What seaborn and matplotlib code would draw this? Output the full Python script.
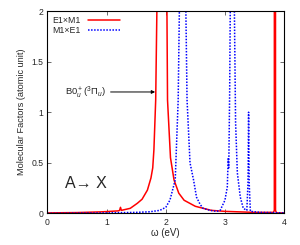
import matplotlib
matplotlib.use("Agg")
import matplotlib.pyplot as plt
import seaborn as sns
import pandas as pd

# E1xM1 (red, solid)
red_x = [0.0, 0.5, 0.9, 1.0, 1.2, 1.22, 1.235, 1.25, 1.4, 1.52, 1.6, 1.69, 1.75, 1.78,
         1.80, 1.83, 1.85, 1.88, 1.94, 2.00, 2.02, 2.03, 2.08, 2.14, 2.22, 2.31, 2.5,
         2.77, 3.0, 3.5, 3.82, 3.835, 3.84, 3.85, 3.855, 3.87, 4.0]
red_y = [0.005, 0.008, 0.015, 0.018, 0.025, 0.03, 0.06, 0.03, 0.05, 0.10, 0.14, 0.23, 0.35, 0.45,
         0.63, 1.12, 2.0, 4.0, 8.0, 4.0, 2.0, 1.12, 0.55, 0.33, 0.2, 0.13, 0.07,
         0.03, 0.02, 0.01, 0.01, 0.03, 20.0, 20.0, 0.03, 0.005, 0.005]

# M1xE1 (blue, dotted)
blue_x = [0.0, 1.0, 1.5, 1.73, 1.9, 2.0, 2.07, 2.16, 2.21, 2.23, 2.26, 2.285, 2.31, 2.34, 2.36,
          2.41, 2.47, 2.52, 2.58, 2.63, 2.75, 2.86, 2.92, 3.0, 3.04, 3.055, 3.065, 3.08, 3.09,
          3.125, 3.16, 3.18, 3.21, 3.26, 3.31, 3.37, 3.39, 3.40, 3.41, 3.43, 3.6, 4.0]
blue_y = [0.0, 0.005, 0.01, 0.016, 0.03, 0.06, 0.13, 0.33, 1.12, 2.0, 5.0, 8.0, 5.0, 2.0, 1.12,
          0.5, 0.33, 0.16, 0.09, 0.05, 0.03, 0.02, 0.03, 0.13, 0.26, 0.54, 0.45, 1.2, 2.0,
          6.0, 2.0, 0.9, 0.4, 0.16, 0.05, 0.03, 0.3, 1.0, 0.3, 0.02, 0.01, 0.005]

x_ticks = [0, 1, 2, 3, 4]
y_ticks = [0, 0.5, 1, 1.5, 2]
y_tick_labels = ["0", "0.5", "1", "1.5", "2"]

sns.set_style("ticks")
plt.rcParams['font.family'] = ['Liberation Sans', 'DejaVu Sans']
plt.rcParams['mathtext.fontset'] = 'custom'
plt.rcParams['mathtext.rm'] = 'Liberation Sans'
plt.rcParams['mathtext.it'] = 'Liberation Sans:italic'

fig = plt.figure(figsize=(3.0, 2.45), dpi=100)
ax = fig.add_axes([0.158, 0.129, 0.789, 0.826])

df_r = pd.DataFrame({"x": red_x, "y": red_y})
df_b = pd.DataFrame({"x": blue_x, "y": blue_y})
sns.lineplot(data=df_r, x="x", y="y", ax=ax, color="#ff0000", lw=1.1,
             estimator=None, sort=False, label="E1\u00d7M1")
sns.lineplot(data=df_b, x="x", y="y", ax=ax, color="#0000ff", lw=1.1,
             estimator=None, sort=False, label="M1\u00d7E1", linestyle=(0, (1, 1)))

ax.set_xlim(0, 4)
ax.set_ylim(0, 2)
ax.set_xticks(x_ticks)
ax.set_yticks(y_ticks)
ax.set_yticklabels(y_tick_labels)
ax.tick_params(direction="in", top=True, right=True, length=3, width=0.6,
               labelsize=6.2, pad=3, color="#555555")
for s in ax.spines.values():
    s.set_linewidth(0.8)
    s.set_color("black")

ax.set_xlabel("\u03c9 (eV)", fontsize=7, labelpad=1)
ax.set_ylabel("Molecular Factors (atomic unit)", fontsize=6.6, labelpad=4)

ax.annotate(r"B0$_u^+$($^3\Pi_u$)", xy=(1.82, 1.2), xytext=(0.30, 1.2),
            fontsize=6.8, ha="left", va="center",
            arrowprops=dict(arrowstyle="-|>", color="black", lw=0.7,
                            mutation_scale=5, shrinkA=1, shrinkB=0))
ax.text(0.3, 0.3, "A\u2192 X", fontsize=11.5, ha="left", va="center")

leg = ax.legend(loc="upper left", frameon=False, fontsize=6.3, handlelength=3.6,
                borderaxespad=0.15, labelspacing=0.1, handletextpad=0.9,
                markerfirst=False)

fig.savefig("out.png", dpi=100)
